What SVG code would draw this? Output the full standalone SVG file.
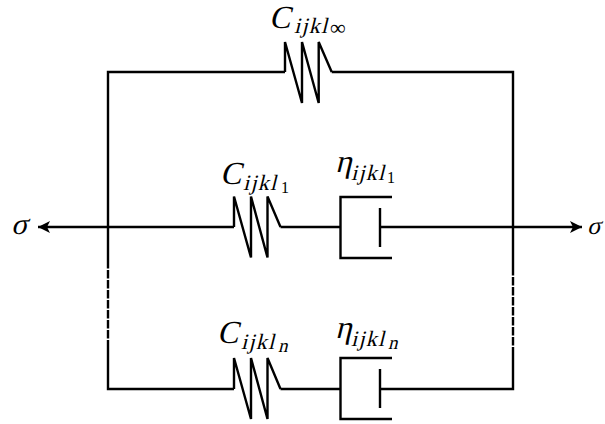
<svg xmlns="http://www.w3.org/2000/svg" width="605" height="424" viewBox="0 0 605 424">
<style>
.w{fill:none;stroke:#000;stroke-width:2.4;stroke-linejoin:miter}
.d{stroke-dasharray:8.5 1.5}
.t{font-family:"Liberation Serif",serif;font-style:normal;fill:#000}
.b{font-size:32px}
.s{font-size:22px;letter-spacing:1.3px}
.e{font-size:16px;letter-spacing:0}
.n{font-size:19px;letter-spacing:0}
.i{font-size:22px;letter-spacing:0}
.g{font-size:30px}
.h{font-size:25px}
</style>
<defs>
<marker id="a" markerUnits="userSpaceOnUse" markerWidth="13" markerHeight="12" refX="12" refY="6" orient="auto-start-reverse"><path d="M0 0L12 6L0 12L3 6Z" fill="#000"/></marker>
</defs>
<rect width="605" height="424" fill="#fff"/>
<g id="connectors">
<path class="w" d="M285 72H108V268.500"/>
<path class="w" d="M331.700 72H513V275.500"/>
<path class="w d" d="M108 270V338.500"/>
<path class="w d" d="M513 277V345.500"/>
<path class="w" d="M108 340V389H234"/>
<path class="w" d="M513 347V389H380"/>
<path class="w" d="M280.500 389H340"/>
<path class="w" d="M280.500 227H340"/>
<path class="w" d="M234 227H38" marker-end="url(#a)"/>
<path class="w" d="M380 227H582" marker-end="url(#a)"/>
</g>
<g id="spring-inf">
<path class="w" d="M285 72V42L302 103V42L318.700 103V42L331.700 72"/>
<text class="t b" transform="translate(269 28) skewX(-14)">C</text>
<text class="t s" transform="translate(294 33) skewX(-14)">ijkl</text>
<text class="t i" x="330" y="35">∞</text>
</g>
<g id="spring-1">
<path class="w" d="M234 227V196.500L251 257.500V196.500L267.500 257.500V196.500L280.500 227"/>
<text class="t b" transform="translate(220 184) skewX(-14)">C</text>
<text class="t s" transform="translate(243 190) skewX(-14)">ijkl</text>
<text class="t e" x="281" y="193">1</text>
</g>
<g id="dashpot-1">
<path class="w" d="M392 197H340.500V258H392M380 208V247"/>
<text class="t b" transform="translate(335 172) skewX(-14)">η</text>
<text class="t s" transform="translate(351 180) skewX(-14)">ijkl</text>
<text class="t e" x="387" y="183">1</text>
</g>
<g id="spring-n">
<path class="w" d="M234 389V358L251 419V358L267.500 419V358L280.500 389"/>
<text class="t b" transform="translate(217 343) skewX(-14)">C</text>
<text class="t s" transform="translate(241 349) skewX(-14)">ijkl</text>
<text class="t n" transform="translate(278 352) skewX(-14)">n</text>
</g>
<g id="dashpot-n">
<path class="w" d="M392 358H340.500V419H392M380 369V408"/>
<text class="t b" transform="translate(335 338) skewX(-14)">η</text>
<text class="t s" transform="translate(351 346) skewX(-14)">ijkl</text>
<text class="t n" transform="translate(388 349) skewX(-14)">n</text>
</g>
<g id="sigma-left"><text class="t g" transform="translate(11 234) skewX(-14)">σ</text></g>
<g id="sigma-right"><text class="t h" transform="translate(587 234) skewX(-14)">σ</text></g>
</svg>
